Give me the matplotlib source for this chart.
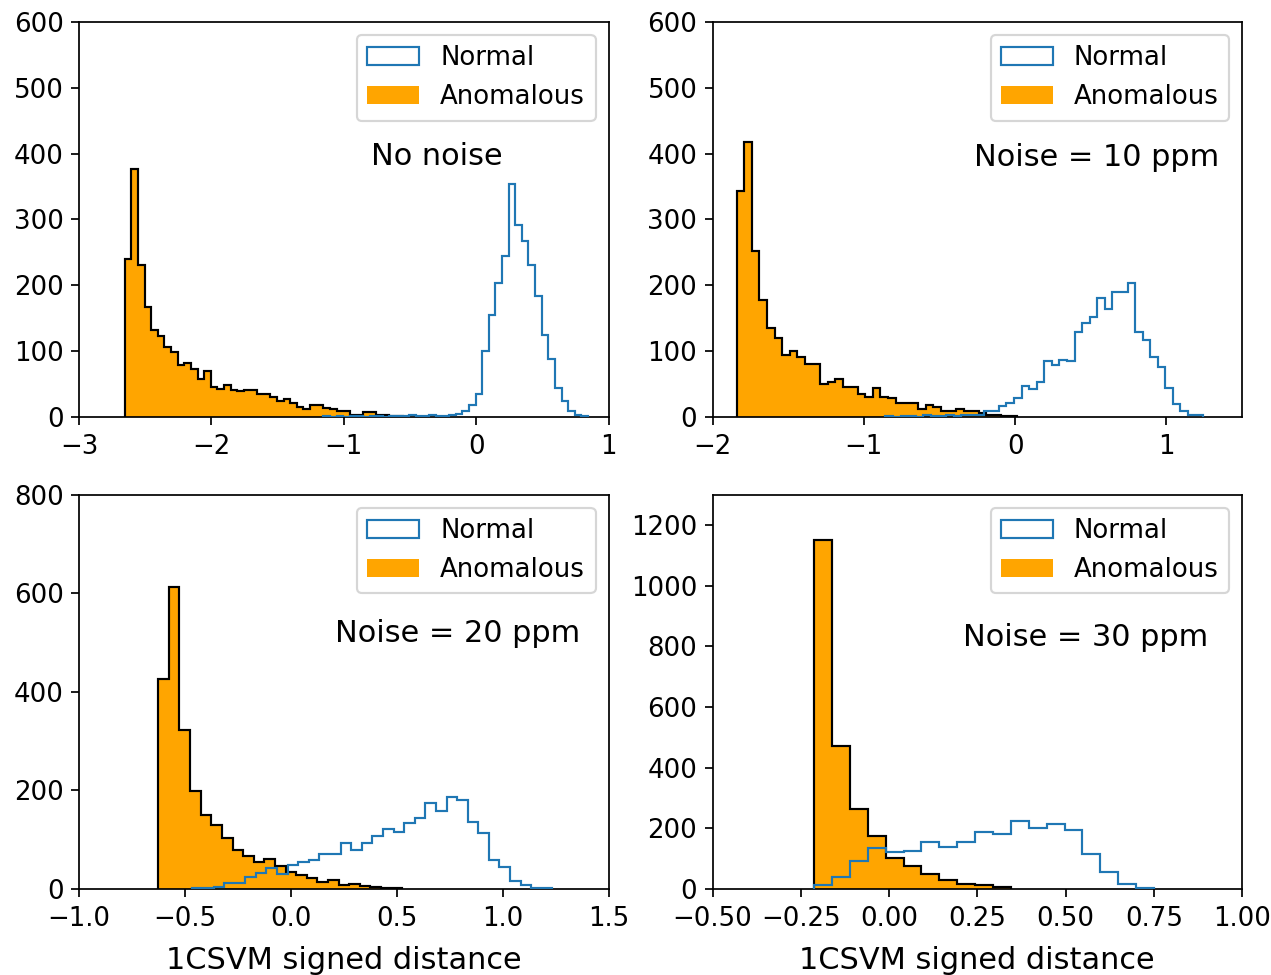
import numpy as np
import matplotlib
matplotlib.use("Agg")
import matplotlib.pyplot as plt

# ---------------- data (histogram counts) ----------------
# Top-left: No noise
tl_anom_start, tl_anom_width = -2.655, 0.05
tl_anom_counts = [240, 377, 231, 166, 132, 123, 106, 98, 78, 82, 73, 57, 69, 45, 42,
                  48, 41, 39, 40, 40, 35, 34, 30, 24, 27, 20, 15, 12, 18, 18, 13, 11,
                  9, 8, 3, 2, 7, 7, 3, 2, 1, 1]
tl_norm_start, tl_norm_width = -1.155, 0.05
tl_norm_counts = [1, 0, 1, 0, 1, 1, 0, 1, 1, 0, 1, 1, 1, 2, 1, 1, 2, 1, 1, 2, 4, 9,
                  17, 35, 100, 155, 203, 244, 354, 291, 267, 231, 183, 124, 88, 44,
                  23, 9, 2, 1]

# Top-right: Noise = 10 ppm
tr_anom_start, tr_anom_width = -1.840, 0.05
tr_anom_counts = [343, 418, 251, 177, 134, 120, 94, 100, 91, 80, 80, 49, 52, 57, 45,
                  45, 35, 30, 43, 29, 28, 20, 20, 20, 12, 17, 14, 9, 9, 12, 8, 8, 5,
                  3, 2, 1, 1]
tr_norm_start, tr_norm_width = -0.857, 0.05
tr_norm_counts = [1, 0, 1, 1, 0, 2, 1, 1, 2, 1, 2, 2, 3, 8, 8, 16, 21, 28, 46, 42, 52,
                  84, 78, 86, 84, 129, 143, 151, 181, 163, 189, 189, 203, 129, 117,
                  90, 76, 44, 19, 9, 3, 2]

# Bottom-left: Noise = 20 ppm
bl_anom_start, bl_anom_width = -0.626, 0.0501
bl_anom_counts = [426, 612, 323, 198, 151, 129, 104, 80, 67, 54, 61, 47, 35, 28, 22,
                  15, 18, 8, 11, 6, 4, 3, 2]
bl_norm_start, bl_norm_width = -0.465, 0.05
bl_norm_counts = [3, 3, 5, 13, 13, 24, 32, 43, 30, 49, 54, 59, 72, 72, 94, 80, 94,
                  107, 121, 116, 133, 145, 175, 158, 187, 180, 136, 113, 59, 45, 17,
                  8, 3, 2]

# Bottom-right: Noise = 30 ppm
br_anom_start, br_anom_width = -0.2125, 0.0507
br_anom_counts = [1150, 472, 265, 176, 102, 75, 51, 31, 16, 13, 6]
br_norm_start, br_norm_width = -0.2125, 0.0507
br_norm_counts = [12, 38, 91, 135, 121, 124, 154, 140, 154, 187, 181, 225, 201, 214,
                  193, 117, 56, 16, 3]

panel_titles = ["No noise", "Noise = 10 ppm", "Noise = 20 ppm", "Noise = 30 ppm"]
series_labels = ["Normal", "Anomalous"]
x_label = "1CSVM signed distance"

xlims = [(-3, 1), (-2, 1.5), (-1.0, 1.5), (-0.5, 1.0)]
xticks = [[-3, -2, -1, 0, 1], [-2, -1, 0, 1],
          [-1.0, -0.5, 0.0, 0.5, 1.0, 1.5],
          [-0.5, -0.25, 0.0, 0.25, 0.5, 0.75, 1.0]]
ylims = [(0, 600), (0, 600), (0, 800), (0, 1300)]

panels = [
    (tl_norm_start, tl_norm_width, tl_norm_counts, tl_anom_start, tl_anom_width, tl_anom_counts),
    (tr_norm_start, tr_norm_width, tr_norm_counts, tr_anom_start, tr_anom_width, tr_anom_counts),
    (bl_norm_start, bl_norm_width, bl_norm_counts, bl_anom_start, bl_anom_width, bl_anom_counts),
    (br_norm_start, br_norm_width, br_norm_counts, br_anom_start, br_anom_width, br_anom_counts),
]

text_pos = [(0.676, 0.638), (0.725, 0.634), (0.7155, 0.626), (0.704, 0.615)]

# ---------------- figure ----------------
DPI = 156
plt.rcParams["font.size"] = 12
plt.rcParams["font.family"] = ["DejaVu Sans"]
plt.rcParams["xtick.major.pad"] = 4.5

fig, axes = plt.subplots(2, 2, figsize=(1271 / DPI, 975 / DPI), dpi=DPI)
fig.subplots_adjust(left=0.0622, right=0.9772, top=0.9774, bottom=0.0882,
                    wspace=0.1964, hspace=0.1977)


def edges_from(start, width, n):
    return start + width * np.arange(n + 1)


for i, ax in enumerate(axes.flat):
    ns, nw, nc, as_, aw, ac = panels[i]
    n_edges = edges_from(ns, nw, len(nc))
    a_edges = edges_from(as_, aw, len(ac))
    n_centers = 0.5 * (n_edges[:-1] + n_edges[1:])
    a_centers = 0.5 * (a_edges[:-1] + a_edges[1:])

    ax.hist(n_centers, bins=n_edges, weights=nc, histtype="step",
            color="tab:blue", label=series_labels[0], zorder=3)
    ax.hist(a_centers, bins=a_edges, weights=ac, histtype="stepfilled",
            color="orange", label=series_labels[1], zorder=1)
    ax.hist(a_centers, bins=a_edges, weights=ac, histtype="step",
            color="black", zorder=2)

    ax.set_xlim(*xlims[i])
    ax.set_xticks(xticks[i])
    ax.set_ylim(*ylims[i])
    ax.legend(loc="upper right")
    ax.text(text_pos[i][0], text_pos[i][1], panel_titles[i], transform=ax.transAxes,
            ha="center", va="baseline", fontsize=14)
    if i >= 2:
        ax.set_xlabel(x_label, fontsize=14, labelpad=6.5)

fig.savefig("out.png", dpi=DPI)
